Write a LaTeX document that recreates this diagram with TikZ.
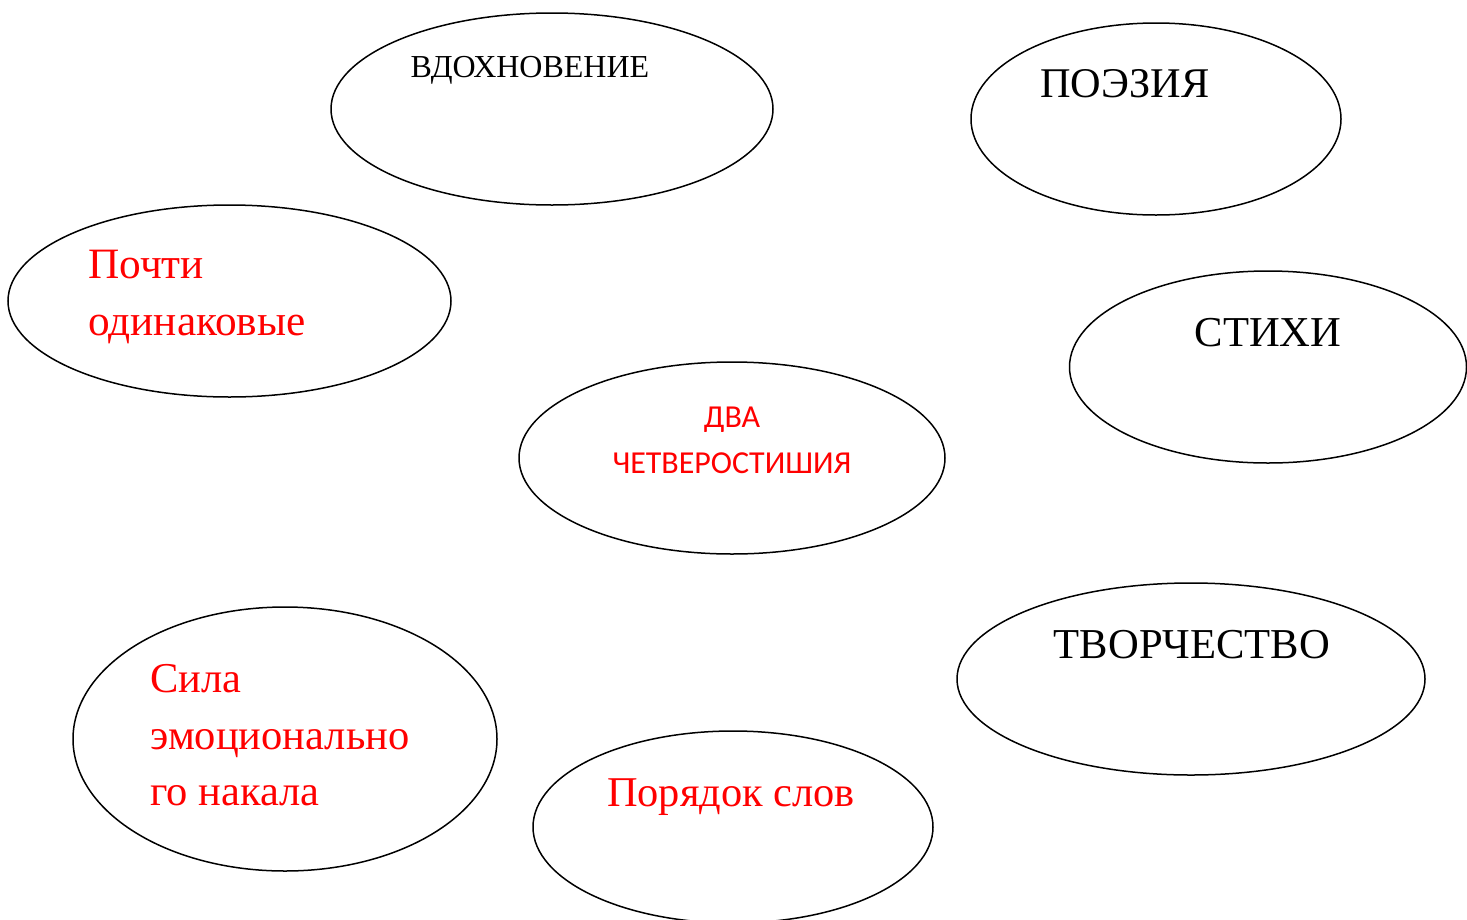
\documentclass[tikz,border=0pt]{standalone}
\usepackage{fontspec}
\setmainfont{Liberation Serif}
\newfontfamily\calfont{Carlito}
\usetikzlibrary{shapes.geometric}
\tikzset{
  ell/.style={draw=black, line width=1.5pt, ellipse, inner sep=0pt},
  blk/.style={anchor=base, inner sep=0pt, text=black},
  redl/.style={anchor=base west, inner sep=0pt, text=red, align=left},
}
\definecolor{red}{RGB}{255,0,0}
\begin{document}
\begin{tikzpicture}[x=1pt,y=-1pt]
\useasboundingbox (0,0) rectangle (1467,919);
% ellipses
\node[ell, minimum width=442pt, minimum height=192pt] (e1) at (552,109) {};
\node[ell, minimum width=370pt, minimum height=192pt] (e2) at (1156,119) {};
\node[ell, minimum width=443pt, minimum height=192pt] (e3) at (229.5,301) {};
\node[ell, minimum width=397pt, minimum height=192pt] (e4) at (1268,367) {};
\node[ell, minimum width=426pt, minimum height=192pt] (e5) at (732,458) {};
\node[ell, minimum width=424pt, minimum height=264pt] (e6) at (285,739) {};
\node[ell, minimum width=468pt, minimum height=192pt] (e7) at (1191,679) {};
\node[ell, minimum width=400pt, minimum height=192pt] (e8) at (733,827) {};
% texts
\node[blk, font=\fontsize{32}{36}\selectfont] (t1) at (530,77) {ВДОХНОВЕНИЕ};
\node[blk, font=\fontsize{42.3}{48}\selectfont] (t2) at (1125,97) {ПОЭЗИЯ};
\node[redl, font=\fontsize{43.3}{48}\selectfont] (t3a) at (88,278) {Почти};
\node[redl, font=\fontsize{43.3}{48}\selectfont] (t3b) at (88,335) {одинаковые};
\node[blk, font=\fontsize{42.6}{48}\selectfont] (t4) at (1268,346) {СТИХИ};
\node[blk, text=red, font=\calfont\fontsize{32}{36}\selectfont] (t5a) at (732,427) {ДВА};
\node[blk, text=red, font=\calfont\fontsize{32}{36}\selectfont] (t5b) at (732,473) {ЧЕТВЕРОСТИШИЯ};
\node[redl, font=\fontsize{42.5}{48}\selectfont] (t6a) at (150,692) {Сила};
\node[redl, font=\fontsize{42.5}{48}\selectfont] (t6b) at (150,749) {эмоционально};
\node[redl, font=\fontsize{42.5}{48}\selectfont] (t6c) at (150,805) {го накала};
\node[blk, font=\fontsize{42.6}{48}\selectfont] (t7) at (1192,658) {ТВОРЧЕСТВО};
\node[blk, text=red, font=\fontsize{42.4}{48}\selectfont] (t8) at (731,806) {Порядок слов};
\end{tikzpicture}
\end{document}
